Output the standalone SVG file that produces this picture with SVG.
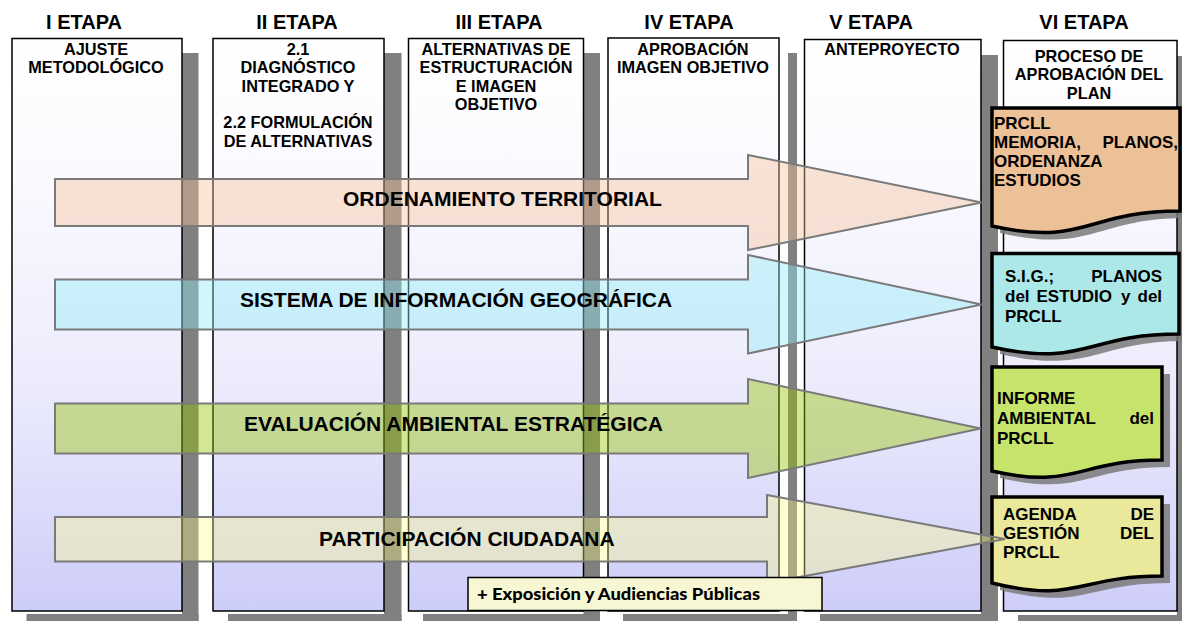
<svg xmlns="http://www.w3.org/2000/svg" width="1182" height="621" viewBox="0 0 1182 621">
<defs>
<linearGradient id="colbg" x1="0" y1="0" x2="0" y2="1">
<stop offset="0" stop-color="#ffffff"/>
<stop offset="0.2" stop-color="#fbfbff"/>
<stop offset="0.45" stop-color="#f2f2fe"/>
<stop offset="0.63" stop-color="#eaeafc"/>
<stop offset="0.77" stop-color="#dfdffb"/>
<stop offset="1" stop-color="#cdcdf9"/>
</linearGradient>
<style>
.col{fill:url(#colbg);stroke:#000;stroke-width:1.5}
.shd{fill:#808080}
.hdr{font-family:"Liberation Sans",Arial,sans-serif;font-weight:bold;font-size:20px;text-anchor:middle;fill:#000}
.ct{font-family:"Liberation Sans",Arial,sans-serif;font-weight:bold;font-size:16.3px;text-anchor:middle;fill:#000}
.arr{stroke:#7a7a7a;stroke-width:2;stroke-linejoin:miter}
.at{font-family:"Liberation Sans",Arial,sans-serif;font-weight:bold;font-size:21px;fill:#000}
.doc{stroke:#000;stroke-width:3.5;stroke-linejoin:miter}
.dshd{fill:#7a7a7a;opacity:0.85}
.dt{font-family:"Liberation Sans",Arial,sans-serif;font-weight:bold;font-size:17px;fill:#000}
.end{text-anchor:end}
</style>
</defs>

<g id="col1">
<rect class="shd" x="182" y="53" width="16.5" height="570"/>
<rect class="shd" x="26.5" y="614" width="172" height="10"/>
<rect class="col" x="12" y="38.5" width="170" height="572.5"/>
<text class="hdr" x="84" y="28.5">I ETAPA</text>
<text class="ct" x="96" y="55">AJUSTE</text>
<text class="ct" x="96" y="73.3">METODOLÓGICO</text>
</g>

<g id="col2">
<rect class="shd" x="384" y="53" width="17.5" height="570"/>
<rect class="shd" x="228" y="614" width="173.5" height="10"/>
<rect class="col" x="213" y="38.5" width="171" height="572.5"/>
<text class="hdr" x="297" y="28.5">II ETAPA</text>
<text class="ct" x="298" y="55">2.1</text>
<text class="ct" x="298" y="73.3">DIAGNÓSTICO</text>
<text class="ct" x="298" y="91.7">INTEGRADO Y</text>
<text class="ct" x="298" y="128.3">2.2 FORMULACIÓN</text>
<text class="ct" x="298" y="146.7">DE ALTERNATIVAS</text>
</g>

<g id="col3">
<rect class="shd" x="583.5" y="53" width="16.5" height="570"/>
<rect class="shd" x="423" y="614" width="177" height="10"/>
<rect class="col" x="408.5" y="38.5" width="175" height="572.5"/>
<text class="hdr" x="499" y="28.5">III ETAPA</text>
<text class="ct" x="496" y="55">ALTERNATIVAS DE</text>
<text class="ct" x="496" y="73.3">ESTRUCTURACIÓN</text>
<text class="ct" x="496" y="91.7">E IMAGEN</text>
<text class="ct" x="496" y="110">OBJETIVO</text>
</g>

<g id="col4">
<rect class="shd" x="788" y="53" width="9" height="570"/>
<rect class="shd" x="623" y="614" width="174" height="10"/>
<rect class="col" x="608" y="38" width="171" height="573"/>
<text class="hdr" x="689" y="28.5">IV ETAPA</text>
<text class="ct" x="693" y="55">APROBACIÓN</text>
<text class="ct" x="693" y="73.3">IMAGEN OBJETIVO</text>
</g>

<g id="col5">
<rect class="shd" x="981" y="55" width="17" height="570"/>
<rect class="shd" x="820" y="614" width="178" height="10"/>
<rect class="col" x="804.5" y="39.5" width="176.5" height="571.5"/>
<text class="hdr" x="871" y="28.5">V ETAPA</text>
<text class="ct" x="892" y="55">ANTEPROYECTO</text>
</g>

<g id="col6">
<rect class="shd" x="1177" y="56" width="10" height="570"/>
<rect class="shd" x="1018" y="615" width="170" height="10"/>
<rect class="col" x="1003.5" y="40.5" width="173.5" height="570.5"/>
<text class="hdr" x="1084" y="28.5">VI ETAPA</text>
<text class="ct" x="1089" y="61.5">PROCESO DE</text>
<text class="ct" x="1089" y="80">APROBACIÓN DEL</text>
<text class="ct" x="1089" y="98.5">PLAN</text>
</g>

<g id="doc1">
<path class="dshd" transform="translate(8,7)" d="M992,108 H1180 V211 C1086,211 1086,247 992,226 Z"/>
<path class="doc" fill="#ecc197" d="M992,108 H1180 V211 C1086,211 1086,247 992,226 Z"/>
<text class="dt" x="994" y="129" font-size="19">PRCLL</text>
<text class="dt" x="994" y="147.5">MEMORIA,</text>
<text class="dt end" x="1178" y="147.5">PLANOS,</text>
<text class="dt" x="994" y="167">ORDENANZA</text>
<text class="dt" x="994" y="186">ESTUDIOS</text>
</g>

<g id="doc2">
<path class="dshd" transform="translate(8,7)" d="M992,253.5 H1179 V334 C1086,334 1086,368 992,347 Z"/>
<path class="doc" fill="#abe8e7" d="M992,253.5 H1179 V334 C1086,334 1086,368 992,347 Z"/>
<text class="dt" x="1005" y="282" font-size="18">S.I.G.;</text>
<text class="dt end" x="1162" y="282" font-size="18">PLANOS</text>
<text class="dt" y="302"><tspan x="1005">del</tspan><tspan x="1036.5">ESTUDIO</tspan><tspan x="1121">y</tspan><tspan x="1137.5">del</tspan></text>
<text class="dt" x="1005" y="322">PRCLL</text>
</g>

<g id="doc3">
<path class="dshd" transform="translate(8,7)" d="M992,367 H1162 V460 C1077,460 1077,490 992,471 Z"/>
<path class="doc" fill="#c6e46b" d="M992,367 H1162 V460 C1077,460 1077,490 992,471 Z"/>
<text class="dt" x="997" y="404">INFORME</text>
<text class="dt" x="997" y="424">AMBIENTAL</text>
<text class="dt end" x="1154" y="424">del</text>
<text class="dt" x="997" y="444">PRCLL</text>
</g>

<g id="doc4">
<path class="dshd" transform="translate(8,7)" d="M992,497 H1162 V576 C1077,576 1077,604 992,583 Z"/>
<path class="doc" fill="#e9e89b" d="M992,497 H1162 V576 C1077,576 1077,604 992,583 Z"/>
<text class="dt" x="1003" y="520">AGENDA</text>
<text class="dt end" x="1154" y="520">DE</text>
<text class="dt" x="1003" y="539">GESTIÓN</text>
<text class="dt end" x="1154" y="539">DEL</text>
<text class="dt" x="1003" y="558">PRCLL</text>
</g>

<g id="connectors">
<g id="arrow-ot">
<path class="arr" fill="rgb(245,194,155)" fill-opacity="0.42" d="M55,179 H748 V155 L981.5,202.5 L748,250 V226 H55 Z"/>
<text class="at" x="343" y="206">ORDENAMIENTO TERRITORIAL</text>
</g>
<g id="arrow-sig">
<path class="arr" fill="rgb(145,235,248)" fill-opacity="0.42" d="M55,279.5 H748 V255 L981.5,304.5 L748,353.5 V329.5 H55 Z"/>
<text class="at" x="240" y="307">SISTEMA DE INFORMACIÓN GEOGRÁFICA</text>
</g>
<g id="arrow-eae">
<path class="arr" fill="rgb(150,195,0)" fill-opacity="0.42" d="M55,403.5 H748 V379 L980.5,428.5 L748,478 V453.5 H55 Z"/>
<text class="at" x="244" y="431">EVALUACIÓN AMBIENTAL ESTRATÉGICA</text>
</g>
<g id="arrow-pc">
<path class="arr" fill="rgb(255,255,128)" fill-opacity="0.35" d="M55,517 H767 V495 L1005,539 L767,583 V561.5 H55 Z"/>
<text class="at" x="319" y="546">PARTICIPACIÓN CIUDADANA</text>
</g>
</g>

<g id="exposicion">
<rect x="468" y="577.5" width="354" height="33" fill="#f7f7d4" stroke="#000" stroke-width="1.5"/>
<text x="477" y="599.5" font-family="Lato,'Open Sans',sans-serif" font-weight="900" font-size="17.5" textLength="283" lengthAdjust="spacingAndGlyphs">+ Exposición y Audiencias Públicas</text>
</g>
</svg>
